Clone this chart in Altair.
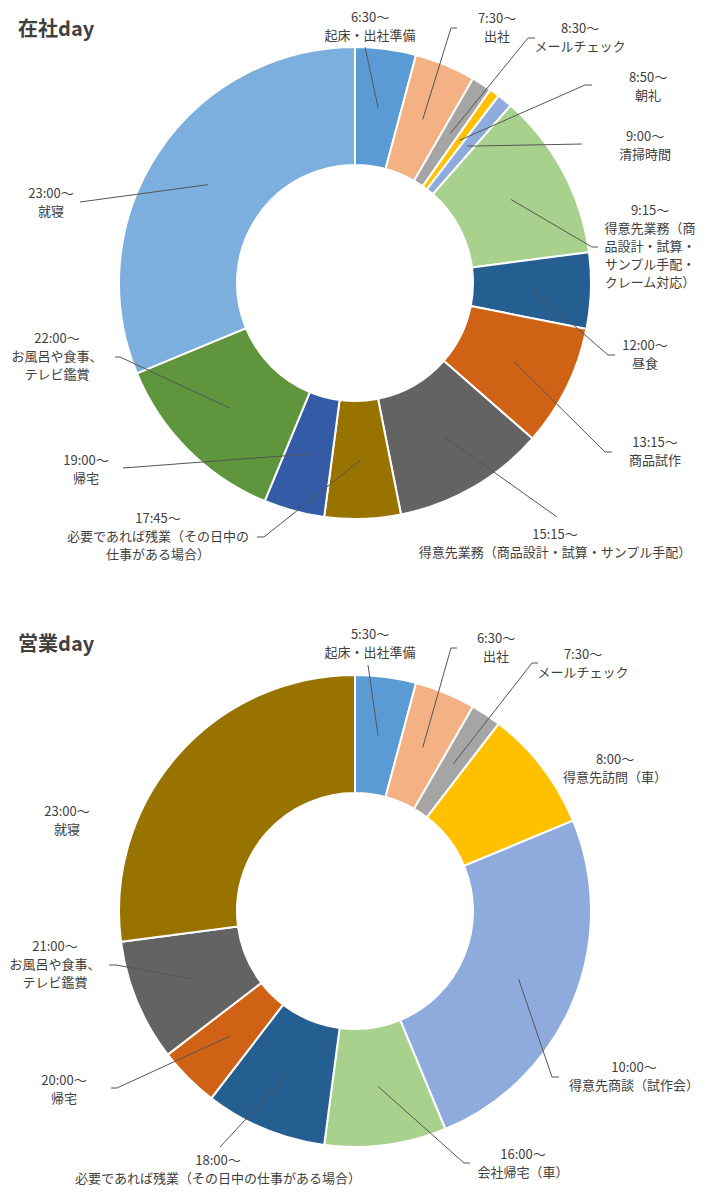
import altair as alt
import pandas as pd

W, H = 694, 1184
OFF = 8  # page margin of the html page
FONT = "Noto Sans CJK JP"
TXT = "#404040"
LEAD = "#555555"
R_IN, R_OUT = 118, 236
R_MID = (R_IN + R_OUT) / 2

# ---------------- data : 在社day ----------------
day1_minutes = [60, 60, 20, 10, 15, 165, 75, 120, 150, 75, 60, 180, 450]
day1_times = ["6:30～", "7:30～", "8:30～", "8:50～", "9:00～", "9:15～", "12:00～",
              "13:15～", "15:15～", "17:45～", "19:00～", "22:00～", "23:00～"]
day1_tasks = ["起床・出社準備", "出社", "メールチェック", "朝礼", "清掃時間",
              "得意先業務（商\n品設計・試算・\nサンプル手配・\nクレーム対応）",
              "昼食", "商品試作", "得意先業務（商品設計・試算・サンプル手配）",
              "必要であれば残業（その日中の\n仕事がある場合）", "帰宅",
              "お風呂や食事、\nテレビ鑑賞", "就寝"]
day1_colors = ["#5B9BD5", "#F4B183", "#A5A5A5", "#FFC000", "#8FAADC", "#A9D18E",
               "#255E91", "#D06215", "#636363", "#997300", "#345CA6", "#5F963D", "#7CAFDD"]

# ---------------- data : 営業day ----------------
day2_minutes = [60, 60, 30, 120, 360, 120, 120, 60, 120, 390]
day2_times = ["5:30～", "6:30～", "7:30～", "8:00～", "10:00～", "16:00～", "18:00～",
              "20:00～", "21:00～", "23:00～"]
day2_tasks = ["起床・出社準備", "出社", "メールチェック", "得意先訪問（車）", "得意先商談（試作会）",
              "会社帰宅（車）", "必要であれば残業（その日中の仕事がある場合）", "帰宅",
              "お風呂や食事、\nテレビ鑑賞", "就寝"]
day2_colors = ["#5B9BD5", "#F4B183", "#A5A5A5", "#FFC000", "#8FAADC", "#A9D18E",
               "#255E91", "#D06215", "#636363", "#997300"]

# ---------------- layout (page pixel coordinates) ----------------
titles = ["在社day", "営業day"]
title_pos = [(18, 30), (18, 645)]
centers = [(355, 283), (355, 911)]

# label anchor (text centre x, first line y)
day1_label_pos = [(370, 18), (497, 19), (580, 29), (648, 78), (645, 137), (650, 211),
                  (645, 346), (655, 443), (555, 535), (158, 519), (86, 461), (57, 339), (51, 194)]
day2_label_pos = [(370, 635), (496, 639), (583, 655), (615, 760), (634, 1068), (523, 1155),
                  (218, 1161), (64, 1081), (55, 947), (67, 812)]
# leader start (x, y) and tick end x (None: no tick); None entry: no leader
day1_leaders = [(365, 47, None), (451, 28, 457), (528, 38, 535), (585, 85, 592), (582, 144, None),
                (592, 247, 598), (608, 355, 615), (605, 452, 612), (557, 517, None),
                (264, 537, 257), (123, 468, None), (120, 357, 115), (80, 202, None)]
day2_leaders = [(368, 665, None), (451, 648, 457), (532, 663, 538), None, (552, 1077, 559),
                (464, 1163, 470), (220, 1147, None), (117, 1088, 111), (116, 965, 109), None]
LINE_H = 18

XS = alt.Scale(domain=[0, W], range=[0, W])
YS = alt.Scale(domain=[0, H], range=[0, H])


def donut(minutes, colors, center):
    cx, cy = center[0] - OFF, center[1] - OFF
    df = pd.DataFrame({"idx": list(range(len(minutes))), "minutes": minutes, "color": colors})
    return alt.Chart(df).mark_arc(innerRadius=R_IN, outerRadius=R_OUT, stroke="white",
                                  strokeWidth=2).encode(
        theta=alt.Theta("minutes:Q", stack=True),
        color=alt.Color("color:N", scale=None),
        order=alt.Order("idx:Q"),
        x=alt.value(cx), y=alt.value(cy),
    )


def leaders(minutes, leads, center):
    cx, cy = center[0] - OFF, center[1] - OFF
    rows = []
    for i, (m, ld) in enumerate(zip(minutes, leads)):
        if ld is None:
            rows.append({"idx": i, "minutes": m, "sx": 0, "sy": 0, "tx": 0, "has": False})
        else:
            sx, sy, tx = ld
            rows.append({"idx": i, "minutes": m, "sx": sx - OFF, "sy": sy - OFF,
                         "tx": (tx if tx is not None else sx) - OFF, "has": True})
    df = pd.DataFrame(rows)
    base = alt.Chart(df).transform_window(
        cum="sum(minutes)", sort=[alt.SortField("idx")], frame=[None, 0]
    ).transform_joinaggregate(total="sum(minutes)").transform_calculate(
        ang="2*PI*(datum.cum - datum.minutes/2)/datum.total"
    ).transform_calculate(
        ex=f"{cx} + {R_MID}*sin(datum.ang)",
        ey=f"{cy} - {R_MID}*cos(datum.ang)",
    ).transform_filter("datum.has")
    diag = base.mark_rule(color=LEAD, strokeWidth=1).encode(
        x=alt.X("sx:Q", scale=XS, axis=None), y=alt.Y("sy:Q", scale=YS, axis=None),
        x2="ex:Q", y2="ey:Q")
    tick = base.mark_rule(color=LEAD, strokeWidth=1).encode(
        x=alt.X("sx:Q", scale=XS, axis=None), y=alt.Y("sy:Q", scale=YS, axis=None),
        x2="tx:Q", y2="sy:Q")
    return diag + tick


def labels(times, tasks, pos):
    rows = []
    for t, task, (lx, ly) in zip(times, tasks, pos):
        lines = [t] + task.split("\n")
        for k, s in enumerate(lines):
            rows.append({"x": lx - OFF, "y": ly - OFF + k * LINE_H, "text": s})
    df = pd.DataFrame(rows)
    return alt.Chart(df).mark_text(font=FONT, fontSize=13, color=TXT, align="center",
                                   baseline="middle").encode(
        x=alt.X("x:Q", scale=XS, axis=None), y=alt.Y("y:Q", scale=YS, axis=None),
        text="text:N")


tdf = pd.DataFrame({"x": [p[0] - OFF for p in title_pos], "y": [p[1] - OFF for p in title_pos],
                    "text": titles})
title_layer = alt.Chart(tdf).mark_text(font=FONT, fontSize=20, fontWeight="bold", color=TXT,
                                       align="left", baseline="middle").encode(
    x=alt.X("x:Q", scale=XS, axis=None), y=alt.Y("y:Q", scale=YS, axis=None), text="text:N")

chart = alt.layer(
    donut(day1_minutes, day1_colors, centers[0]),
    donut(day2_minutes, day2_colors, centers[1]),
    leaders(day1_minutes, day1_leaders, centers[0]),
    leaders(day2_minutes, day2_leaders, centers[1]),
    labels(day1_times, day1_tasks, day1_label_pos),
    labels(day2_times, day2_tasks, day2_label_pos),
    title_layer,
).resolve_scale(theta="independent").properties(
    width=W, height=H, padding=0, autosize=alt.AutoSizeParams(type="none"),
    background="white",
).configure_view(stroke=None)

chart.save("out.html", embed_options={"renderer": "svg", "actions": False})
